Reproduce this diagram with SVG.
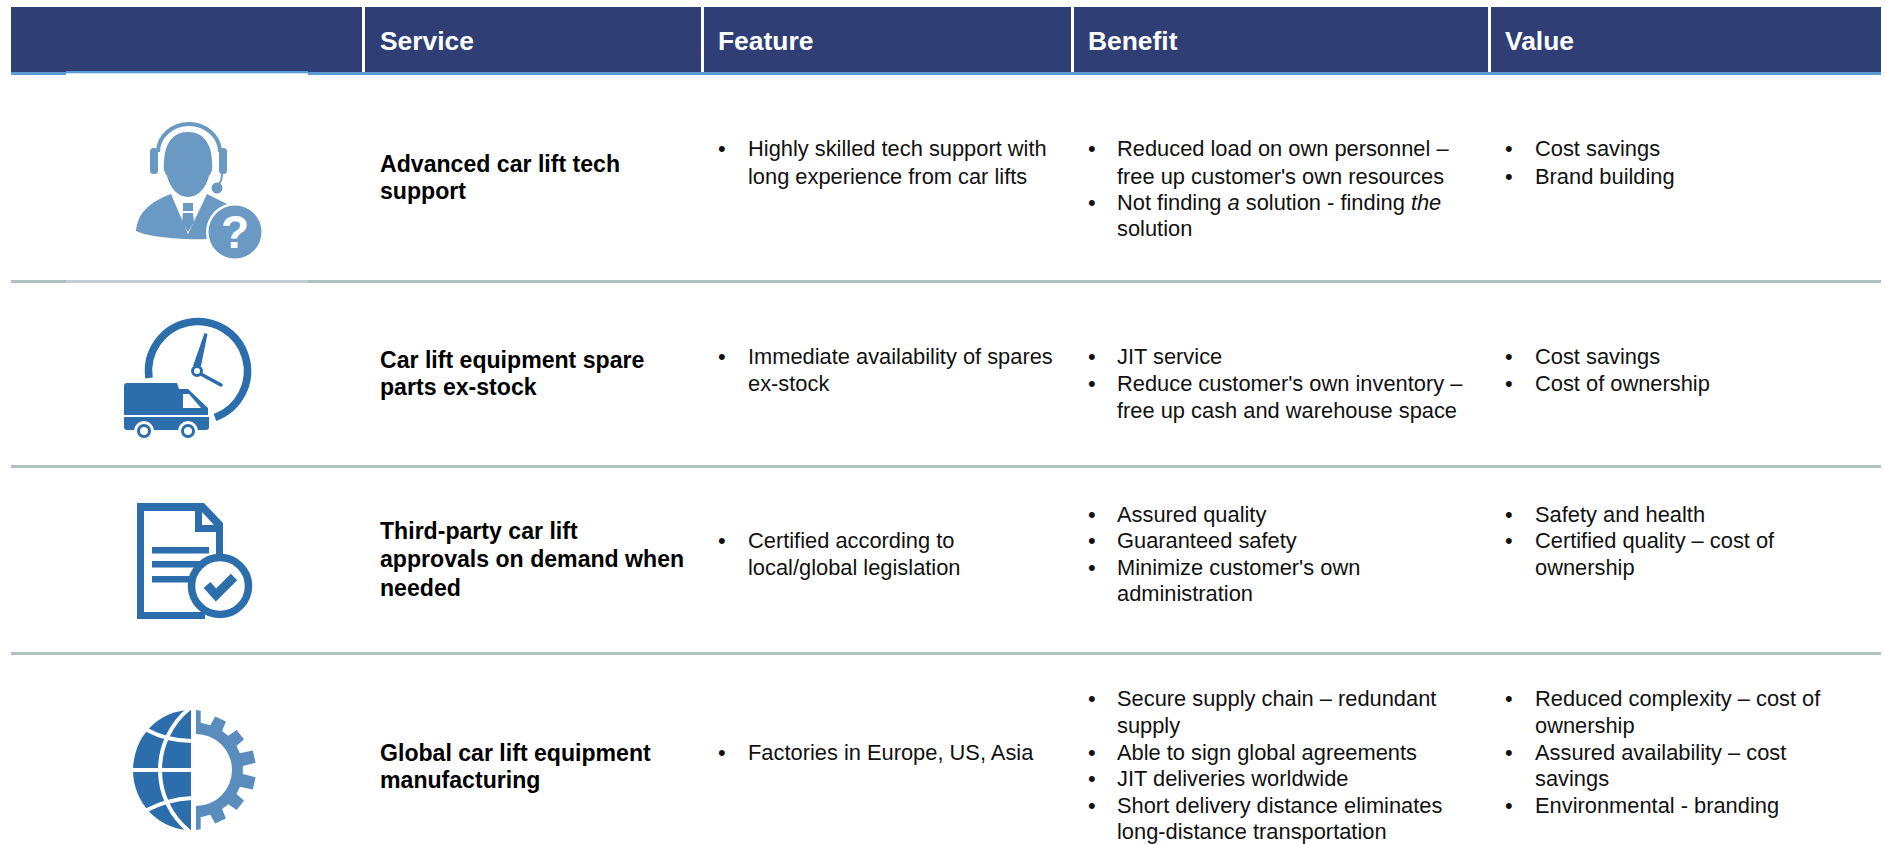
<svg xmlns="http://www.w3.org/2000/svg" width="1885" height="844" viewBox="0 0 1885 844">
<style>
text{font-family:"Liberation Sans",Arial,sans-serif;font-size:21.85px;fill:#111}
.h{font-size:26.4px;font-weight:bold;fill:#fff}
.t{transform:translateY(.7px)}
.s{font-weight:bold;fill:#000;font-size:23.1px;transform:translateY(1px)}
.b{fill:#6a9ac4}.d{fill:#2c6dab}.g{fill:#5a8dbd}
.w{fill:#fff}
.hs{fill:#fff}
</style>
<rect width="1885" height="844" fill="#fff"/>
<g id="header">
<rect x="11" y="7" width="1870" height="65" fill="#2f3e75"/>
<rect x="11" y="72" width="1870" height="3" fill="#5b9bd5"/>
<rect x="66" y="71" width="242" height="2.3" fill="#5b9bd5"/>
<rect x="66" y="73.3" width="242" height="2" fill="#fff"/>
<rect class="hs" x="362" y="7" width="3" height="65"/>
<rect class="hs" x="701" y="7" width="3" height="65"/>
<rect class="hs" x="1071" y="7" width="3" height="65"/>
<rect class="hs" x="1488" y="7" width="3" height="65"/>
<text class="h" x="380" y="50">Service</text>
<text class="h" x="718" y="50">Feature</text>
<text class="h" x="1088" y="50">Benefit</text>
<text class="h" x="1505" y="50">Value</text>
</g>
<g id="rules" fill="#b0bfc0">
<rect x="11" y="280" width="1870" height="3"/>
<rect x="66" y="280" width="242" height="3" fill="#c3ced3"/>
<rect x="11" y="465" width="1870" height="3"/>
<rect x="11" y="652" width="1870" height="3"/>
</g>
<g id="row1">
<g id="icon-support">
<path d="M158 152A31 28 0 0 1 220 152" fill="none" stroke="#6a9ac4" stroke-width="4"/>
<rect class="b" x="150" y="148" width="8" height="26" rx="3.5"/>
<rect class="b" x="219" y="148" width="8" height="26" rx="3.5"/>
<path class="b" d="M188 132C172 132 164 145 164 163C163 168 164 172 167 176C170 188 178 197 188 197C198 197 206 188 209 176C212 172 213 168 212 163C212 145 204 132 188 132z"/>
<path d="M222 174Q222 182 217 186" stroke="#6a9ac4" stroke-width="2" fill="none"/>
<circle class="b" cx="217" cy="188" r="5.5"/>
<path class="b" d="M171 194L188 234L207 194L227 204L232 240L208 239C190 240 150 238 136 231C138 212 150 202 171 194z"/>
<path class="b" d="M183 203h10v8h-10zM183 213h10l1 9l-6 10l-6-10z"/>
<circle cx="235" cy="232" r="29" fill="#fff"/>
<circle class="b" cx="235" cy="232" r="26.5"/>
<text x="235" y="248" text-anchor="middle" style="font-size:46px;font-weight:bold;fill:#fff">?</text>
</g>
<text class="s" x="380" y="171">Advanced car lift tech</text>
<text class="s" x="380" y="198">support</text>
<text x="718" y="156">•</text><text x="748" y="156">Highly skilled tech support with</text>
<text class="t" x="748" y="183">long experience from car lifts</text>
<text x="1088" y="156">•</text><text x="1117" y="156">Reduced load on own personnel –</text>
<text class="t" x="1117" y="183">free up customer's own resources</text>
<text class="t" x="1088" y="209">•</text><text class="t" x="1117" y="209">Not finding <tspan font-style="italic">a</tspan> solution - finding <tspan font-style="italic">the</tspan></text>
<text class="t" x="1117" y="235">solution</text>
<text x="1505" y="156">•</text><text x="1535" y="156">Cost savings</text>
<text class="t" x="1505" y="183">•</text><text class="t" x="1535" y="183">Brand building</text>
</g>
<g id="row2">
<g id="icon-delivery">
<path d="M149 378A49.5 49.5 0 1 1 215 417.500" fill="none" stroke="#2c6dab" stroke-width="7.5"/>
<path class="d" d="M204.500 333L207.500 334L201 366L193 366z"/>
<path d="M199 373L221 385" fill="none" stroke="#2c6dab" stroke-width="3.5" stroke-linecap="round"/>
<circle cx="197" cy="371" r="4.500" fill="#fff" stroke="#2c6dab" stroke-width="3"/>
<path class="d" d="M127 383H177L179 389H188L208 408V415H124V386a3 3 0 0 1 3-3z"/>
<path class="w" d="M183 394H189L201 408H183z"/>
<path class="d" d="M124 417H209V427a3 3 0 0 1-3 3H127a3 3 0 0 1-3-3z"/>
<circle class="w" cx="144" cy="431" r="10"/><circle cx="144" cy="431" r="5.500" fill="#fff" stroke="#2c6dab" stroke-width="3"/>
<circle class="w" cx="188" cy="431" r="10"/><circle cx="188" cy="431" r="5.500" fill="#fff" stroke="#2c6dab" stroke-width="3"/>
</g>
<text class="s" x="380" y="367">Car lift equipment spare</text>
<text class="s" x="380" y="394">parts ex-stock</text>
<text x="718" y="364">•</text><text x="748" y="364">Immediate availability of spares</text>
<text class="t" x="748" y="390">ex-stock</text>
<text x="1088" y="364">•</text><text x="1117" y="364">JIT service</text>
<text class="t" x="1088" y="390">•</text><text class="t" x="1117" y="390">Reduce customer's own inventory –</text>
<text class="t" x="1117" y="417">free up cash and warehouse space</text>
<text x="1505" y="364">•</text><text x="1535" y="364">Cost savings</text>
<text class="t" x="1505" y="390">•</text><text class="t" x="1535" y="390">Cost of ownership</text>
</g>
<g id="row3">
<g id="icon-document">
<path class="d" fill-rule="evenodd" d="M137 503H204L223 523V560H216V532H195V511H144V612H205V619H137z"/>
<path class="w" d="M202 512L214 525H202z"/>
<rect class="d" x="152" y="547" width="57" height="6.500"/>
<rect class="d" x="152" y="561" width="50" height="6.500"/>
<rect class="d" x="152" y="576" width="40" height="6.500"/>
<circle cx="220" cy="586" r="28.500" fill="#fff" stroke="#2c6dab" stroke-width="7.500"/>
<path d="M207 585L216 595L234 577" fill="none" stroke="#2c6dab" stroke-width="9"/>
</g>
<text class="s" x="380" y="538">Third-party car lift</text>
<text class="s" x="380" y="566">approvals on demand when</text>
<text class="s" x="380" y="595">needed</text>
<text class="t" x="718" y="547">•</text><text class="t" x="748" y="547">Certified according to</text>
<text class="t" x="748" y="574">local/global legislation</text>
<text class="t" x="1088" y="521">•</text><text class="t" x="1117" y="521">Assured quality</text>
<text x="1088" y="548">•</text><text x="1117" y="548">Guaranteed safety</text>
<text class="t" x="1088" y="574">•</text><text class="t" x="1117" y="574">Minimize customer's own</text>
<text class="t" x="1117" y="600">administration</text>
<text class="t" x="1505" y="521">•</text><text class="t" x="1535" y="521">Safety and health</text>
<text x="1505" y="548">•</text><text x="1535" y="548">Certified quality – cost of</text>
<text class="t" x="1535" y="574">ownership</text>
</g>
<g id="row4">
<g id="icon-globe">
<path class="d" d="M191 710V830A58 60 0 0 1 191 710z"/>
<g fill="none" stroke="#fff" stroke-width="4">
<path d="M132 770H192"/>
<path d="M190 708C150 740 150 800 190 832"/>
<path d="M147 730C162 738 176 741 192 741"/>
<path d="M147 810C162 802 176 799 192 798"/>
</g>
<path class="g" d="M196 710L200.700 710.700V722.700L210.300 725.200L215.200 716.400L225.900 721.500L222.100 730.900L228.300 735.800L236.600 730L244 739.300L236.500 746.100L239.900 753.200L252.800 750.600L255.600 762.800L242.800 766V774L255.600 777.200L252.800 789.400L239.900 786.800L236.500 793.900L244 800.700L236.600 810L228.300 804.200L222.100 809.100L225.900 818.500L215.200 823.600L210.300 814.800L200.700 817.300V829.300L196 830V806A36 36 0 0 0 196 734z"/>
</g>
<text class="s" x="380" y="760">Global car lift equipment</text>
<text class="s" x="380" y="787">manufacturing</text>
<text x="718" y="760">•</text><text x="748" y="760">Factories in Europe, US, Asia</text>
<text x="1088" y="706">•</text><text x="1117" y="706">Secure supply chain – redundant</text>
<text x="1117" y="733">supply</text>
<text x="1088" y="759.500">•</text><text x="1117" y="759.500">Able to sign global agreements</text>
<text x="1088" y="786">•</text><text x="1117" y="786">JIT deliveries worldwide</text>
<text x="1088" y="813">•</text><text x="1117" y="813">Short delivery distance eliminates</text>
<text x="1117" y="839">long-distance transportation</text>
<text x="1505" y="706">•</text><text x="1535" y="706">Reduced complexity – cost of</text>
<text x="1535" y="733">ownership</text>
<text x="1505" y="759.500">•</text><text x="1535" y="759.500">Assured availability – cost</text>
<text x="1535" y="786">savings</text>
<text x="1505" y="813">•</text><text x="1535" y="813">Environmental - branding</text>
</g>
</svg>
